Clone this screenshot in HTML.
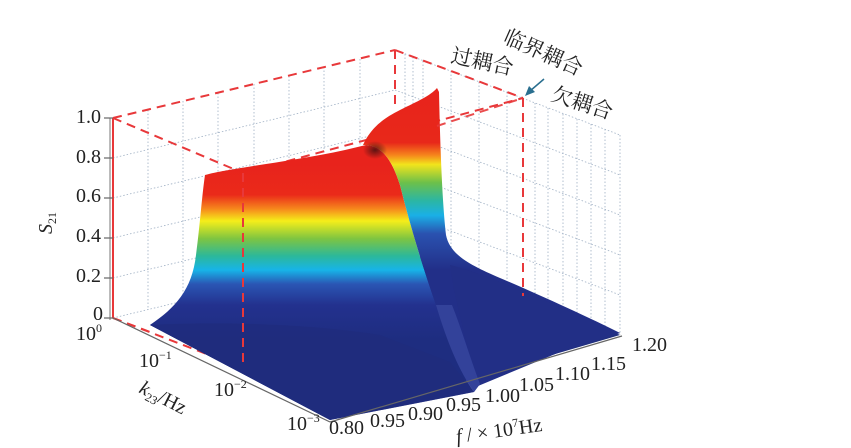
<!DOCTYPE html>
<html><head><meta charset="utf-8"><style>
html,body{margin:0;padding:0;background:#fff;}
svg{display:block;}
text{font-family:"Liberation Serif","Noto Serif CJK SC",serif;fill:#222;}
</style></head><body>
<svg width="851" height="448" viewBox="0 0 851 448" xmlns="http://www.w3.org/2000/svg">
<defs>
<linearGradient id="gA" gradientUnits="userSpaceOnUse" x1="0" y1="165" x2="0" y2="340">
<stop offset="0" stop-color="#e8231c"/>
<stop offset="0.17" stop-color="#ea2a1a"/>
<stop offset="0.25" stop-color="#f6871c"/>
<stop offset="0.32" stop-color="#f5ee1a"/>
<stop offset="0.42" stop-color="#7fc541"/>
<stop offset="0.52" stop-color="#2cb89a"/>
<stop offset="0.6" stop-color="#17b4e8"/>
<stop offset="0.68" stop-color="#2a56b4"/>
<stop offset="0.8" stop-color="#23318e"/>
<stop offset="1" stop-color="#1e2d80"/>
</linearGradient>
<linearGradient id="gB" gradientUnits="userSpaceOnUse" x1="0" y1="88" x2="0" y2="270">
<stop offset="0" stop-color="#e8231c"/>
<stop offset="0.3" stop-color="#e8281a"/>
<stop offset="0.37" stop-color="#f6871c"/>
<stop offset="0.42" stop-color="#f2e41c"/>
<stop offset="0.52" stop-color="#6cc04a"/>
<stop offset="0.62" stop-color="#2bb6a4"/>
<stop offset="0.7" stop-color="#1ab0e6"/>
<stop offset="0.8" stop-color="#2a52b0"/>
<stop offset="1" stop-color="#222f88"/>
</linearGradient>
<radialGradient id="sh" cx="0.5" cy="0.5" r="0.5">
<stop offset="0" stop-color="#3a1010" stop-opacity="0.8"/>
<stop offset="1" stop-color="#3a1010" stop-opacity="0"/>
</radialGradient>
</defs>

<g stroke="#9fb0c4" stroke-width="0.8" stroke-dasharray="1.5,2" fill="none">
<line x1="113" y1="278" x2="395" y2="210"/>
<line x1="113" y1="238" x2="395" y2="170"/>
<line x1="113" y1="198" x2="395" y2="130"/>
<line x1="113" y1="158" x2="395" y2="90"/>
<line x1="148" y1="110" x2="148" y2="310"/>
<line x1="183" y1="101" x2="183" y2="301"/>
<line x1="218" y1="93" x2="218" y2="293"/>
<line x1="254" y1="84" x2="254" y2="284"/>
<line x1="289" y1="76" x2="289" y2="276"/>
<line x1="324" y1="67" x2="324" y2="267"/>
<line x1="360" y1="59" x2="360" y2="259"/>
<line x1="113" y1="318" x2="395" y2="250"/>
<line x1="395" y1="250" x2="620" y2="335"/>
<line x1="395" y1="210" x2="620" y2="295"/>
<line x1="395" y1="170" x2="620" y2="255"/>
<line x1="395" y1="130" x2="620" y2="215"/>
<line x1="395" y1="90" x2="620" y2="175"/>
<line x1="395" y1="50" x2="620" y2="135"/>
<line x1="620" y1="135" x2="620" y2="335"/>
<line x1="423" y1="61" x2="423" y2="261"/>
<line x1="451" y1="71" x2="451" y2="271"/>
<line x1="479" y1="82" x2="479" y2="282"/>
<line x1="507" y1="92" x2="507" y2="292"/>
<line x1="535" y1="103" x2="535" y2="303"/>
<line x1="548" y1="108" x2="548" y2="308"/>
<line x1="563" y1="114" x2="563" y2="314"/>
<line x1="577" y1="119" x2="577" y2="319"/>
<line x1="591" y1="124" x2="591" y2="324"/>
<line x1="605" y1="129" x2="605" y2="329"/>
<line x1="413" y1="57" x2="413" y2="257"/>
<line x1="405" y1="54" x2="405" y2="254"/>
</g>

<g stroke="#e8383a" stroke-width="2" stroke-dasharray="9,6" fill="none">
<line x1="113" y1="118" x2="395" y2="50"/>
<line x1="395" y1="50" x2="523" y2="98"/>
<line x1="395" y1="50" x2="395" y2="110"/>
<line x1="113" y1="118" x2="243" y2="173"/>
<line x1="243" y1="173" x2="523" y2="98"/>
<line x1="113" y1="318" x2="243" y2="368"/>
<line x1="243" y1="368" x2="523" y2="296"/>
</g>

<!-- floor -->
<polygon points="150,325 330,420 620,335 560,312 480,275 440,255 380,260 250,270 190,300" fill="#21307f"/>

<!-- left wall incl. descent -->
<path d="M150,325 C175,308 192,290 196,255 C200,225 202,195 205,175 C230,168 290,162 345,150 L366,145 C382,146 392,160 400,185 C410,225 422,265 436,305 C448,345 460,372 474,392 L330,420 Z" fill="url(#gA)"/>
<path d="M150,325 C200,322 300,322 380,335 L450,362 L474,392 L330,420 Z" fill="#1f2c7c" opacity="0.6"/>

<!-- right ridge -->
<path d="M363,145 C370,130 380,120 400,110 C418,101 430,96 437,88 L439,92 C440,140 442,200 446,235 C450,255 470,265 500,278 C540,295 590,318 620,333 L560,352 L480,384 L474,392 C460,372 448,345 436,305 C422,265 410,225 400,185 C392,160 382,146 366,145 Z" fill="url(#gB)"/>
<path d="M450,265 C480,272 540,298 620,333 L560,352 L478,386 C470,360 462,325 454,290 Z" fill="#222f86"/>
<path d="M436,305 C448,345 460,372 474,392 L480,384 C470,358 462,330 452,305 Z" fill="#3a4aa2" opacity="0.7"/>
<ellipse cx="375" cy="150" rx="12" ry="9" fill="url(#sh)"/>

<g stroke="#e8383a" stroke-width="2" stroke-dasharray="9,6" fill="none">
<line x1="243" y1="173" x2="243" y2="368"/>
<line x1="523" y1="98" x2="523" y2="296"/>
<line x1="437" y1="126" x2="523" y2="98" opacity="0.9"/>
<line x1="113" y1="318" x2="150" y2="332"/>
</g>
<line x1="113" y1="118" x2="113" y2="318" stroke="#e8383a" stroke-width="2"/>
<line x1="110" y1="118" x2="110" y2="320" stroke="#777" stroke-width="1"/>

<g stroke="#666" stroke-width="1.2">
<line x1="113" y1="318" x2="330" y2="422"/>
<line x1="330" y1="422" x2="622" y2="336"/>
<line x1="104" y1="118" x2="113" y2="118"/><line x1="104" y1="158" x2="113" y2="158"/>
<line x1="104" y1="198" x2="113" y2="198"/><line x1="104" y1="238" x2="113" y2="238"/>
<line x1="104" y1="278" x2="113" y2="278"/><line x1="104" y1="318" x2="113" y2="318"/>
</g>

<g font-size="20">
<text x="76" y="123">1.0</text>
<text x="76" y="163">0.8</text>
<text x="76" y="202">0.6</text>
<text x="76" y="242">0.4</text>
<text x="76" y="282">0.2</text>
<text x="93" y="320">0</text>
</g>
<text transform="translate(52,234) rotate(-90)" font-size="20" font-style="italic">S<tspan font-size="12" font-style="normal" dy="4">21</tspan></text>

<g font-size="20">
<text x="76" y="340">10<tspan font-size="12" dy="-8">0</tspan></text>
<text x="139" y="367">10<tspan font-size="12" dy="-8">−1</tspan></text>
<text x="214" y="396">10<tspan font-size="12" dy="-8">−2</tspan></text>
<text x="287" y="430">10<tspan font-size="12" dy="-8">−3</tspan></text>
</g>
<text transform="translate(138,392) rotate(27)" font-size="20"><tspan font-style="italic">k</tspan><tspan font-size="12" dy="4">23</tspan><tspan dy="-4">/Hz</tspan></text>

<g font-size="20">
<text x="329" y="434">0.80</text>
<text x="370" y="427">0.95</text>
<text x="408" y="420">0.90</text>
<text x="446" y="411">0.95</text>
<text x="485" y="402">1.00</text>
<text x="519" y="391">1.05</text>
<text x="555" y="380">1.10</text>
<text x="591" y="370">1.15</text>
<text x="632" y="351">1.20</text>
</g>
<text transform="translate(457,443) rotate(-8)" font-size="20"><tspan font-style="italic">f</tspan> / × 10<tspan font-size="12" dy="-8">7</tspan><tspan dy="8">Hz</tspan></text>

<g font-size="21">
<text transform="translate(450,62) rotate(12)">过耦合</text>
<text transform="translate(502,42) rotate(24)">临界耦合</text>
<text transform="translate(550,100) rotate(18)">欠耦合</text>
</g>
<line x1="544" y1="79" x2="530" y2="91" stroke="#2a6f8f" stroke-width="1.5"/>
<polygon points="525,96 529,86 535,92" fill="#2a6f8f"/>
</svg>
</body></html>
